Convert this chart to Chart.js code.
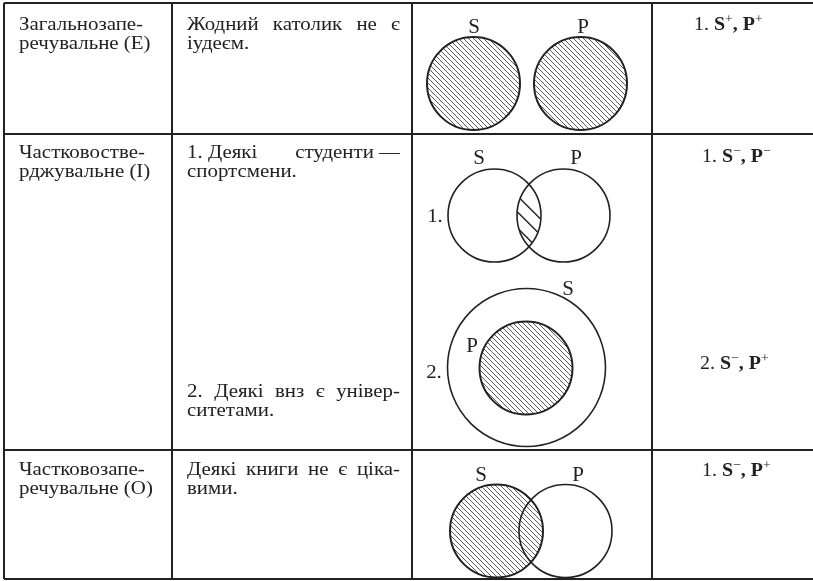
<!DOCTYPE html>
<html><head><meta charset="utf-8">
<script src="https://cdn.jsdelivr.net/npm/chart.js@4/dist/chart.umd.min.js"></script>
<style>html,body{margin:0;padding:0;background:#fff;}#c{display:block;}</style>
</head><body>
<canvas id="c" width="813" height="581"></canvas>
<script>
// ---- data ----
const typeNames = [["Загальнозапе-","речувальне (Е)"],["Частковостве-","рджувальне (І)"],["Частковозапе-","речувальне (О)"]];
const examples = [
  [["Жодний католик не є", true],["іудеєм.", false]],
  [["1.\u00A0Деякі студенти\u00A0—", true],["спортсмени.", false]],
  [["2. Деякі внз є універ-", true],["ситетами.", false]],
  [["Деякі книги не є ціка-", true],["вими.", false]]
];
const formulaNums = ["1.","1.","2.","1."];
const formulaSigns = [["+","+"],["−","−"],["−","+"],["−","+"]];
// diagram circles (chart units)
const hatchedCircles = [{x:473.5,y:83.5,r:46.5},{x:580.5,y:83.5,r:46.5},{x:526,y:368,r:46.5},{x:496.5,y:531,r:46.5}];
const outlineCircles = [{x:494.5,y:215.5,r:46.5},{x:563.5,y:215.5,r:46.5},{x:526.5,y:367.5,r:79},{x:565.5,y:531,r:46.5}];
const lensPair = [0,1]; // indices into outlineCircles forming hatched lens
const circleLabels = [["S",474,33],["P",583,33],["S",479,164],["P",576,164],["S",568,295],["P",472,352],["S",481,481],["P",578,481]];
const diagramNums = [["1.",435,222],["2.",434,378]];
// ---- layout ----
const colEdges = [4,172,412,652,813];
const rowEdges = [3,134,450,579];
const nameBase = [30,158,475];
const exampleBase = [30,158,397,475];
const formulaBase = [30,162,369,476];
const formulaX = [694,702,700,702];
const lensHatchOffsets = [-8,8,24];
const lineH = 19;
const SX = 1.1;
const INK = '#222';
const SERIF = '"Liberation Serif","Times New Roman",serif';

function makeHatch(){
  const s = 5, c = document.createElement('canvas');
  c.width = s; c.height = s;
  const g = c.getContext('2d');
  g.strokeStyle = '#5a5a5a'; g.lineWidth = 1;
  g.beginPath();
  g.moveTo(-1,-1); g.lineTo(s+1,s+1);
  g.moveTo(-1,s-1); g.lineTo(1,s+1);
  g.moveTo(s-1,-1); g.lineTo(s+1,1);
  g.stroke();
  return g.createPattern(c,'repeat');
}
const hatch = makeHatch();

function txt(ctx, t, px, py, font, sx, align){
  ctx.font = font;
  const w = ctx.measureText(t).width * sx;
  let x0 = px;
  if (align === 'center') x0 = px - w/2;
  ctx.save(); ctx.translate(x0, py); ctx.scale(sx,1); ctx.textAlign='left'; ctx.fillText(t,0,0); ctx.restore();
  return w;
}
function tw(ctx, t, font, sx){ ctx.font = font; return ctx.measureText(t).width*sx; }

const tablePlugin = {
  id:'table',
  beforeDatasetsDraw(chart){
    const {ctx, scales:{x,y}} = chart;
    ctx.save();
    ctx.strokeStyle = INK; ctx.lineWidth = 2;
    ctx.beginPath();
    rowEdges.forEach(r=>{ctx.moveTo(x.getPixelForValue(colEdges[0]), y.getPixelForValue(r)); ctx.lineTo(x.getPixelForValue(colEdges[colEdges.length-1]), y.getPixelForValue(r));});
    colEdges.slice(0,-1).forEach(cx=>{ctx.moveTo(x.getPixelForValue(cx), y.getPixelForValue(rowEdges[0])); ctx.lineTo(x.getPixelForValue(cx), y.getPixelForValue(rowEdges[rowEdges.length-1]));});
    ctx.stroke();
    ctx.restore();
  },
  afterDatasetsDraw(chart){
    const {ctx, scales:{x,y}} = chart;
    ctx.save();
    // lens hatch
    const a = outlineCircles[lensPair[0]], b = outlineCircles[lensPair[1]];
    const ax=x.getPixelForValue(a.x), ay=y.getPixelForValue(a.y), bx=x.getPixelForValue(b.x), by=y.getPixelForValue(b.y);
    const mx=(ax+bx)/2, my=(ay+by)/2;
    ctx.save();
    ctx.beginPath(); ctx.arc(ax,ay,a.r,0,Math.PI*2); ctx.clip();
    ctx.beginPath(); ctx.arc(bx,by,b.r,0,Math.PI*2); ctx.clip();
    ctx.strokeStyle = INK; ctx.lineWidth = 1.5;
    ctx.beginPath();
    lensHatchOffsets.forEach(o=>{ ctx.moveTo(mx-40, my+o-40); ctx.lineTo(mx+40, my+o+40); });
    ctx.stroke();
    ctx.restore();

    ctx.fillStyle = INK;
    ctx.textBaseline = 'alphabetic';
    const F = '19px ' + SERIF, FB = 'bold 19px ' + SERIF, FS = '13px ' + SERIF;
    // circle labels
    circleLabels.forEach(([t,cx,cy])=>txt(ctx, t, x.getPixelForValue(cx), y.getPixelForValue(cy), '20px '+SERIF, 1.05, 'center'));
    diagramNums.forEach(([t,cx,cy])=>txt(ctx, t, x.getPixelForValue(cx), y.getPixelForValue(cy), F, SX, 'center'));
    // column 1
    typeNames.forEach((lines,i)=>lines.forEach((t,j)=>txt(ctx, t, x.getPixelForValue(colEdges[0]+15), y.getPixelForValue(nameBase[i]+j*lineH), F, SX, 'left')));
    // column 2 (justified)
    const x0 = colEdges[1]+15, x1 = colEdges[2]-12;
    examples.forEach((lines,i)=>lines.forEach(([t,just],j)=>{
      const yy = y.getPixelForValue(exampleBase[i]+j*lineH);
      const px0 = x.getPixelForValue(x0), px1 = x.getPixelForValue(x1);
      if(!just){ txt(ctx, t.replace(/\u00A0/g,' '), px0, yy, F, SX, 'left'); return; }
      const words = t.split(' ').map(w=>w.replace(/\u00A0/g,' '));
      const ws = words.map(w=>tw(ctx, w, F, SX));
      const gap = (px1-px0-ws.reduce((p,q)=>p+q,0))/(words.length-1);
      let cx = px0;
      words.forEach((w,k)=>{txt(ctx, w, cx, yy, F, SX, 'left'); cx += ws[k]+gap;});
    }));
    // column 4 formulas
    formulaNums.forEach((n,i)=>{
      let cx = x.getPixelForValue(formulaX[i]); const yy = y.getPixelForValue(formulaBase[i]);
      const segs = [[n+' ',F,0],['S',FB,0],[formulaSigns[i][0],FS,-7],[', ',FB,0],['P',FB,0],[formulaSigns[i][1],FS,-7]];
      segs.forEach(([t,f,dy])=>{ cx += txt(ctx, t, cx, yy+dy, f, 1.05, 'left'); });
    });
    ctx.restore();
  }
};

new Chart(document.getElementById('c'), {
  type:'bubble',
  data:{datasets:[
    {data:outlineCircles, backgroundColor:'rgba(0,0,0,0)', borderColor:INK, borderWidth:1.6, clip:false},
    {data:hatchedCircles, backgroundColor:hatch, borderColor:INK, borderWidth:2, clip:false}
  ]},
  options:{
    responsive:false, animation:false, events:[],
    layout:{padding:0, autoPadding:false},
    plugins:{legend:{display:false}, tooltip:{enabled:false}},
    elements:{point:{hoverRadius:0, hoverBorderWidth:0}},
    scales:{
      x:{type:'linear', min:0, max:813, display:false},
      y:{type:'linear', min:0, max:581, reverse:true, display:false}
    }
  },
  plugins:[tablePlugin]
});
</script>
</body></html>
